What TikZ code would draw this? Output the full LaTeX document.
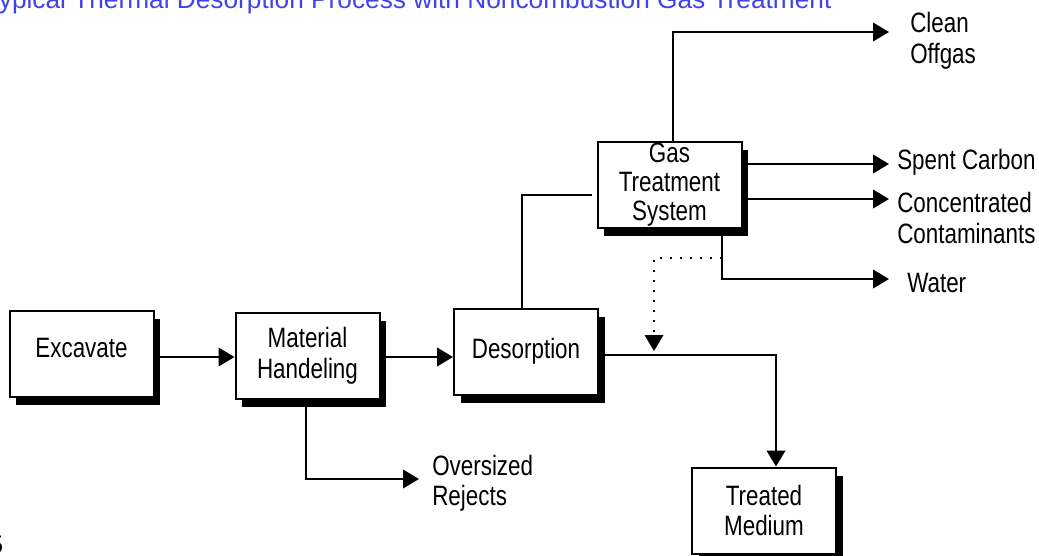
\documentclass[tikz,border=0pt]{standalone}
\usepackage{fontspec}
\setmainfont{Liberation Sans}
\newfontfamily\narrowfont{Liberation Sans}[FakeStretch=0.8]
\newcommand\lblfont{\narrowfont\fontsize{21}{23}\selectfont}
\newcommand\gasfont{\narrowfont\fontsize{21}{21.75}\selectfont}
\usetikzlibrary{arrows.meta,shadows}
\definecolor{titleblue}{RGB}{66,66,235}
\begin{document}
\begin{tikzpicture}[x=0.75pt,y=-0.75pt,
  box/.style={draw, line width=1.5pt, fill=white, minimum width=108pt, minimum height=64.5pt,
    align=center, inner sep=0pt, font=\lblfont,
    drop shadow={shadow xshift=5pt, shadow yshift=-6pt, fill=black, opacity=1}},
  arr/.style={line width=1.5pt, -{Triangle[length=12pt,width=14pt]}},
  ln/.style={line width=1.5pt},
  lbl/.style={anchor=base west, inner sep=0pt, font=\lblfont}]
\useasboundingbox (0,0) rectangle (1039,556);
\clip (0,0) rectangle (1039,556);
% title and page number
\node[anchor=base west, inner sep=0pt, text=titleblue, font=\fontsize{19.7}{22}\selectfont] (title) at (-16,8.5)
  {Typical Thermal Desorption Process with Noncombustion Gas Treatment};
\node[anchor=base east, inner sep=0pt, font=\fontsize{19}{21}\selectfont] (pg) at (3.5,553) {5};
% boxes
\node[box] (ex)  at (81.5,353.5) {Excavate\rule[-9pt]{0pt}{1pt}};
\node[box] (mat) at (307.5,355.5) {Material\\Handeling};
\node[box] (des) at (526,351.5) {Desorption};
\node[box, font=\gasfont] (gts) at (669.5,185) {Gas\\Treatment\\System};
\node[box] (tm)  at (764,510.5) {Treated\\Medium};
% labels
\node[lbl] (clean) at (910,33) {\begin{tabular}[t]{@{}l@{}}Clean\\Offgas\end{tabular}};
\node[lbl] (spent) at (897,170) {Spent Carbon};
\node[lbl] (conc)  at (897,213) {\begin{tabular}[t]{@{}l@{}}Concentrated\\Contaminants\end{tabular}};
\node[lbl] (water) at (907,292) {Water};
\node[lbl] (over)  at (432,475) {\begin{tabular}[t]{@{}l@{}}Oversized\\Rejects\end{tabular}};
% connectors
\coordinate (tclean) at (889,32);
\coordinate (tspent) at (889,164);
\coordinate (tconc)  at (889,199);
\coordinate (twater) at (889,279);
\coordinate (tover)  at (419,479);
\coordinate (gin)    at (592,195);
\coordinate (dstart) at (722,258);
\coordinate (dend)   at (654,351);
\draw[arr] (ex.east |- 0,357) -- (mat.west |- 0,357);
\draw[arr] (mat.east |- 0,357) -- (des.west |- 0,357);
\draw[ln]  (des.north -| 522,0) |- (gin);
\draw[arr] (gts.north -| 673,0) |- (tclean);
\draw[arr] (gts.east |- tspent) -- (tspent);
\draw[arr] (gts.east |- tconc) -- (tconc);
\draw[arr] (gts.south -| 722,0) |- (twater);
\draw[arr, line width=1.2pt, dash pattern=on 1.2pt off 6.3pt] (dstart) -| (dend);
\draw[arr] (des.east |- 0,355) -| (tm.north -| 776,0);
\draw[arr] (mat.south -| 306,0) |- (tover);
\end{tikzpicture}
\end{document}
